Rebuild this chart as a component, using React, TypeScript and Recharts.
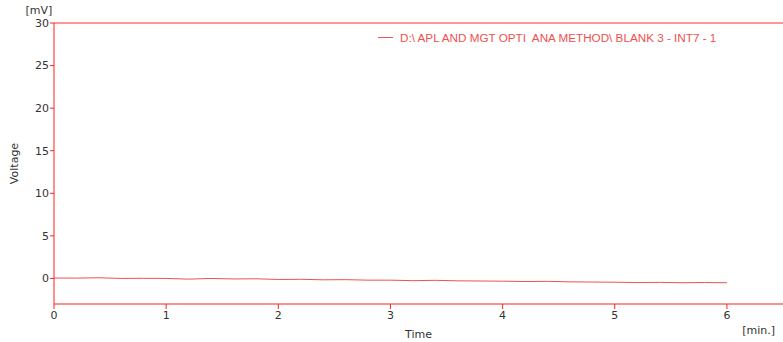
import { Label, Line, LineChart, ReferenceLine, XAxis, YAxis } from "recharts";

const seriesName = "D:\\ APL AND MGT OPTI  ANA METHOD\\ BLANK 3 - INT7 - 1";

const times = [
  0, 0.2, 0.4, 0.6, 0.8, 1, 1.2, 1.4, 1.6, 1.8, 2, 2.2, 2.4, 2.6, 2.8, 3, 3.2, 3.4, 3.6, 3.8, 4, 4.2,
  4.4, 4.6, 4.8, 5, 5.2, 5.4, 5.6, 5.8, 6,
];
const voltage = [
  0.05, 0.04, 0.08, 0.0, 0.02, 0.0, -0.08, 0.0, -0.06, -0.04, -0.12, -0.1, -0.16, -0.14, -0.2, -0.2,
  -0.26, -0.22, -0.28, -0.3, -0.32, -0.36, -0.34, -0.4, -0.42, -0.44, -0.48, -0.46, -0.5, -0.48, -0.5,
];

const xTicks = [0, 1, 2, 3, 4, 5, 6];
const yTicks = [0, 5, 10, 15, 20, 25, 30];

const data = times.map((t, i) => ({ t, v: voltage[i] }));

const red = "#ff2020";
const lineColor = "#f05050";
const font = { fill: "#333", fontSize: 11, fontFamily: "DejaVu Sans" };

export default function App() {
  return (
    <div style={{ position: "fixed", left: 0, top: 0, width: 783, height: 342, background: "#fff" }}>
      <LineChart width={783} height={342} data={data} margin={{ top: 23, right: 0, bottom: 0, left: 0 }}>
        <XAxis
          dataKey="t"
          type="number"
          domain={[0, 6.5]}
          ticks={xTicks}
          stroke={red}
          tickSize={5}
          tickMargin={2}
          tick={font}
          height={38}
        >
          <Label value="Time" position="insideBottom" offset={4} style={font} />
          <Label value="[min.]" position="insideBottomRight" offset={8} style={font} />
        </XAxis>
        <YAxis
          type="number"
          domain={[-3, 30]}
          ticks={yTicks}
          stroke={red}
          width={54}
          tickSize={4}
          tickMargin={1}
          tick={font}
          allowDataOverflow
        >
          <Label value="Voltage" angle={-90} position="insideLeft" offset={14} style={{ ...font, textAnchor: "middle" }} />
          <Label value="[mV]" position="top" offset={9} dx={12} style={font} />
        </YAxis>
        <ReferenceLine y={30} stroke="#ff7070" strokeWidth={1.5} />
        <Line
          type="linear"
          dataKey="v"
          name={seriesName}
          stroke={lineColor}
          strokeWidth={1}
          dot={false}
          isAnimationActive={false}
        />
      </LineChart>
      <div
        style={{
          position: "absolute",
          left: 378,
          top: 31,
          display: "flex",
          alignItems: "center",
          fontFamily: "Liberation Sans",
          fontSize: 11.7,
          color: lineColor,
          whiteSpace: "pre",
        }}
      >
        <span style={{ display: "inline-block", width: 15, height: 1, background: lineColor, marginRight: 7 }} />
        <span>{seriesName}</span>
      </div>
    </div>
  );
}
